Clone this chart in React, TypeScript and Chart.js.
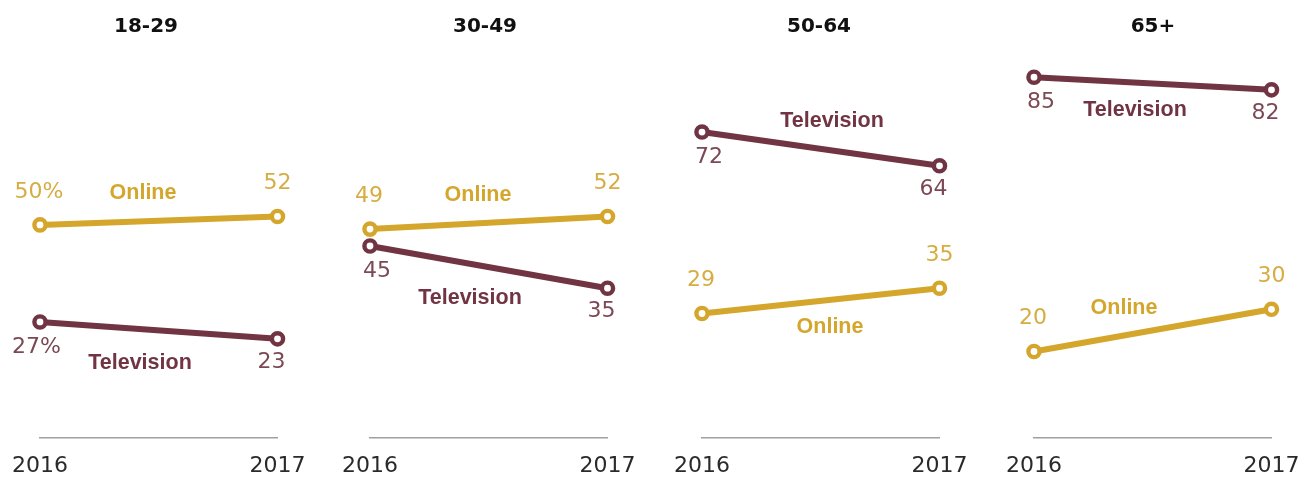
import React, { useEffect, useRef } from 'react';
import { Chart, registerables } from 'chart.js';

Chart.register(...registerables);

// ---- data ----
const ageGroups = ['18-29', '30-49', '50-64', '65+'];
const years = ['2016', '2017'];
const online = [
  [50, 52],
  [49, 52],
  [29, 35],
  [20, 30],
];
const television = [
  [27, 23],
  [45, 35],
  [72, 64],
  [85, 82],
];

// ---- layout / style ----
const PANEL_LEFT = [0, 330, 662, 994];
const PANEL_W = 331;
const PANEL_H = 479;
const TITLE_X = [146, 155, 157, 159];
const ONLINE_NAME = [
  { x: 143, dy: -28 },
  { x: 148, dy: -28 },
  { x: 168, dy: 27 },
  { x: 130, dy: -27 },
];
const TV_NAME = [
  { x: 140, dy: 34 },
  { x: 140, dy: 34 },
  { x: 170, dy: -29 },
  { x: 141, dy: 28 },
];

const GOLD = '#D4A62C';
const GOLD_TEXT = '#D6AD42';
const MAROON = '#703443';
const MAROON_TEXT = '#7B4956';
const NUM_FONT = '22px "DejaVu Sans"';
const NAME_FONT = 'bold 21.5px "Liberation Sans"';
const TITLE_FONT = 'bold 20px "DejaVu Sans"';

const labelsPlugin = {
  id: 'panelLabels',
  afterDatasetsDraw(chart: any, _args: any, opts: any) {
    const p: number = opts.panel;
    const ctx: CanvasRenderingContext2D = chart.ctx;
    ctx.save();
    ctx.textBaseline = 'middle';

    // title
    ctx.font = TITLE_FONT;
    ctx.fillStyle = '#111111';
    ctx.textAlign = 'center';
    ctx.fillText(ageGroups[p], TITLE_X[p], 27);

    chart.data.datasets.forEach((ds: any, di: number) => {
      const meta = chart.getDatasetMeta(di);
      const isOnline = ds.label === 'Online';
      const pts = meta.data;
      // value labels
      ctx.font = NUM_FONT;
      ctx.fillStyle = isOnline ? GOLD_TEXT : MAROON_TEXT;
      pts.forEach((pt: any, j: number) => {
        const v = ds.data[j];
        const txt = String(v) + (p === 0 && j === 0 ? '%' : '');
        if (isOnline) {
          ctx.textAlign = 'center';
          ctx.fillText(txt, pt.x + (j === 0 ? -1 : 0), pt.y - 33);
        } else if (j === 0) {
          ctx.textAlign = 'right';
          ctx.fillText(txt, pt.x + 21, pt.y + 25);
        } else {
          ctx.textAlign = 'center';
          ctx.fillText(txt, pt.x - 6, pt.y + 23);
        }
      });
      // series name label
      const spec = isOnline ? ONLINE_NAME[p] : TV_NAME[p];
      const a = pts[0];
      const b = pts[1];
      const t = (spec.x - a.x) / (b.x - a.x);
      const ly = a.y + (b.y - a.y) * t;
      ctx.font = NAME_FONT;
      ctx.fillStyle = isOnline ? GOLD : MAROON;
      ctx.textAlign = 'center';
      ctx.fillText(ds.label, spec.x, ly + spec.dy);
    });
    ctx.restore();
  },
};

function Panel({ idx }: { idx: number }) {
  const ref = useRef<HTMLCanvasElement>(null);
  useEffect(() => {
    const mk = (label: string, data: number[], color: string) => ({
      label,
      data,
      borderColor: color,
      backgroundColor: color,
      borderWidth: 6,
      pointRadius: 5.6,
      pointBorderWidth: 4.4,
      pointBackgroundColor: '#ffffff',
      pointBorderColor: color,
      tension: 0,
      clip: false as any,
    });
    const chart = new Chart(ref.current as HTMLCanvasElement, {
      type: 'line',
      data: {
        labels: years,
        datasets: [
          mk('Television', television[idx], MAROON),
          mk('Online', online[idx], GOLD),
        ],
      },
      options: {
        responsive: false,
        animation: false,
        layout: { autoPadding: false, padding: { left: 40, right: 53.5, top: 16, bottom: 0 } } as any,
        plugins: {
          legend: { display: false },
          tooltip: { enabled: false },
          title: { display: false },
          panelLabels: { panel: idx },
        } as any,
        scales: {
          x: {
            type: 'category',
            offset: false,
            grid: { display: false, drawTicks: false },
            border: { display: true, color: '#a0a0a0', width: 1.5 },
            ticks: {
              color: '#2a2a2a',
              font: { family: '"DejaVu Sans"', size: 22, lineHeight: 1.7 },
              padding: 10,
              maxRotation: 0,
              autoSkip: false,
            },
            afterFit: (s: any) => {
              s.height = 41;
            },
          },
          y: { display: false, min: -0.5, max: 99.5 },
        },
      },
      plugins: [labelsPlugin],
    });
    return () => chart.destroy();
  }, [idx]);
  return (
    <div
      style={{
        position: 'absolute',
        left: PANEL_LEFT[idx],
        top: 0,
        width: PANEL_W,
        height: PANEL_H,
      }}
    >
      <canvas ref={ref} width={PANEL_W} height={PANEL_H} style={{ display: 'block' }} />
    </div>
  );
}

export default function App() {
  return (
    <div
      style={{
        position: 'fixed',
        left: 0,
        top: 0,
        width: 1302,
        height: 479,
        background: '#ffffff',
        overflow: 'hidden',
      }}
    >
      {ageGroups.map((_, i) => (
        <Panel key={i} idx={i} />
      ))}
    </div>
  );
}
